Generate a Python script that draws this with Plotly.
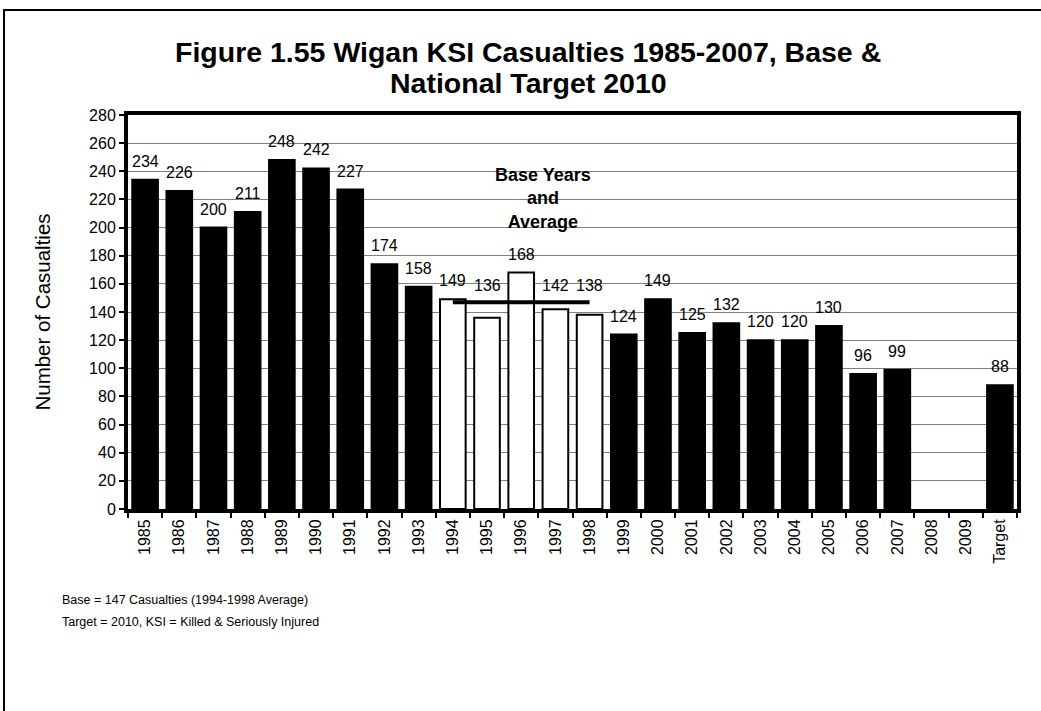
import plotly.graph_objects as go

categories = [str(y) for y in range(1985, 2010)] + ["Target"]
casualties = [234, 226, 200, 211, 248, 242, 227, 174, 158, 149, 136, 168, 142, 138,
              124, 149, 125, 132, 120, 120, 130, 96, 99, None, None, 88]
base_years = ["1994", "1995", "1996", "1997", "1998"]
base_average = 147
y_ticks = list(range(0, 281, 20))

title_lines = ["Figure 1.55 Wigan KSI Casualties 1985-2007, Base &", "National Target 2010"]
notes = ["Base = 147 Casualties (1994-1998 Average)",
         "Target = 2010, KSI = Killed & Seriously Injured"]

FONT = "Liberation Sans, Arial, sans-serif"

fill_colors = ["white" if c in base_years else "black" for c in categories]


def page_y(py):
    # page pixel row -> paper y (plot area spans rows 115..509)
    return (509 - py) / 394


fig = go.Figure()
fig.add_trace(go.Bar(
    x=categories, y=casualties,
    marker=dict(color=fill_colors, line=dict(color="black", width=2)),
    showlegend=False, hoverinfo="x+y",
))
fig.add_trace(go.Scatter(
    x=[base_years[0], base_years[-1]], y=[base_average, base_average],
    mode="lines", line=dict(color="black", width=4), showlegend=False,
))

annotations = []
for i, (c, v) in enumerate(zip(categories, casualties)):
    if v is None:
        continue
    ly, shift = v, 8
    if c in base_years and v < base_average:
        ly, shift = base_average, 6  # labels lifted clear of the average line
    annotations.append(dict(x=i, y=ly, text=str(v), showarrow=False, xref="x", yref="y",
                            yanchor="bottom", yshift=shift,
                            font=dict(family=FONT, size=16, color="black")))
annotations.append(dict(x=11.65, y=221, xref="x", yref="y", showarrow=False,
                        text="<b>Base Years</b><br><b>and</b><br><b>Average</b>",
                        font=dict(family=FONT, size=18, color="black"), align="center"))
for note, ny in zip(notes, [600, 622]):
    annotations.append(dict(x=-0.076, y=page_y(ny), xref="paper", yref="paper",
                            showarrow=False, xanchor="left", yanchor="middle", align="left",
                            text=note, font=dict(family=FONT, size=12.5, color="black")))
for line, ty in zip(title_lines, [52, 83]):
    annotations.append(dict(x=(528 - 128) / 889, y=page_y(ty), xref="paper", yref="paper",
                            showarrow=False, xanchor="center", yanchor="middle",
                            text="<b>" + line + "</b>",
                            font=dict(family=FONT, size=28.5, color="black")))

fig.update_layout(
    width=1041, height=711,
    margin=dict(l=128, r=24, t=115, b=202),
    paper_bgcolor="white", plot_bgcolor="white",
    bargap=0.25,
    annotations=annotations,
    font=dict(family=FONT, color="black"),
    shapes=[dict(type="rect", xref="paper", yref="paper",
                 x0=(4 - 128) / 889, x1=(1050 - 128) / 889,
                 y0=page_y(720), y1=page_y(10),
                 line=dict(color="black", width=2), layer="below")],
)
fig.update_xaxes(
    type="category", showline=True, linewidth=4, linecolor="black", mirror=True,
    ticks="outside", tickson="boundaries", ticklen=5, tickwidth=2, tickcolor="black",
    tickangle=-90, tickfont=dict(family=FONT, size=16, color="black"),
    showgrid=False, range=[-0.5, 25.5],
)
fig.update_yaxes(
    range=[0, 280], tickvals=y_ticks, showline=True, linewidth=4, linecolor="black",
    mirror=True, ticks="outside", ticklen=5, tickwidth=2, tickcolor="black",
    tickfont=dict(family=FONT, size=16, color="black"),
    showgrid=True, gridcolor="#808080", gridwidth=1, zeroline=False,
    title=dict(text="Number of Casualties", font=dict(family=FONT, size=20.5, color="black"),
               standoff=34),
)

fig.write_html("out.html", config={"displayModeBar": False},
               post_script="document.body.style.margin='0';document.body.style.overflow='hidden';")
